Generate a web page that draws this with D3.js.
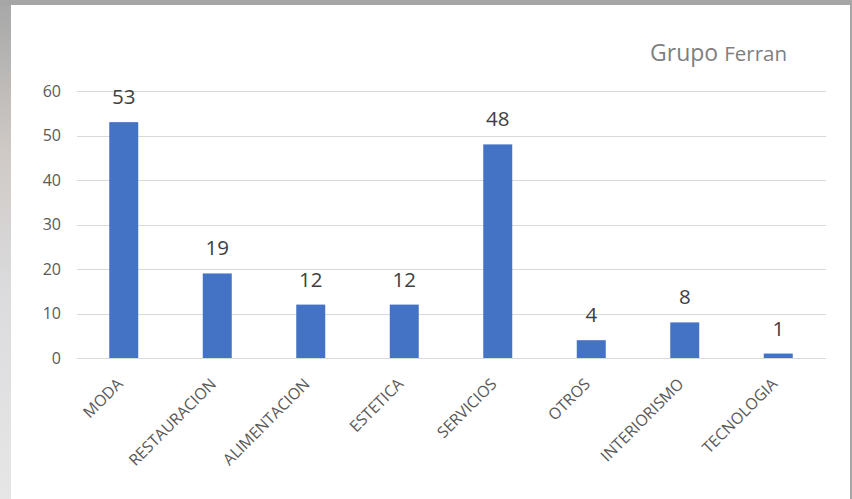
<!DOCTYPE html>
<html><head><meta charset="utf-8">
<script src="https://cdn.jsdelivr.net/npm/d3@7"></script>
<style>body{margin:0;padding:0;overflow:hidden;background:#a6a6a6}</style>
</head><body>
<script>
const categories = ["MODA","RESTAURACION","ALIMENTACION","ESTETICA","SERVICIOS","OTROS","INTERIORISMO","TECNOLOGIA"];
const values = [53,19,12,12,48,4,8,1];
const yTicks = [0,10,20,30,40,50,60];

const W = 852, H = 499;
const svg = d3.select("body").append("svg").attr("width",W).attr("height",H);
const font = "'Open Sans', sans-serif";

// background
const defs = svg.append("defs");
const lg = defs.append("linearGradient").attr("id","lb").attr("x1",0).attr("y1",0).attr("x2",0).attr("y2",1);
lg.append("stop").attr("offset","0").attr("stop-color","#a8a8a8");
lg.append("stop").attr("offset","0.3").attr("stop-color","#cfcac6");
lg.append("stop").attr("offset","0.6").attr("stop-color","#dcdcdf");
lg.append("stop").attr("offset","1").attr("stop-color","#e6e6e6");
svg.append("rect").attr("x",0).attr("y",0).attr("width",W).attr("height",H).attr("fill","#a6a6a6");
svg.append("rect").attr("x",0).attr("y",5).attr("width",11).attr("height",H-5).attr("fill","url(#lb)");
svg.append("rect").attr("x",11).attr("y",5).attr("width",839).attr("height",H-5).attr("fill","#ffffff");

const x = d3.scaleBand().domain(categories).range([77,825]).paddingInner(0.69).paddingOuter(0.345);
const y = d3.scaleLinear().domain([0,60]).range([358,91]);

// grid
svg.append("g").selectAll("line").data(yTicks).join("line")
  .attr("x1",77).attr("x2",826).attr("y1",d=>Math.round(y(d))+0.5).attr("y2",d=>Math.round(y(d))+0.5)
  .attr("stroke","#d9d9d9").attr("stroke-width",1);

// y axis labels
const yAxis = d3.axisLeft(y).tickValues(yTicks).tickSize(0).tickPadding(0);
const ga = svg.append("g").attr("transform","translate(61,0)").call(yAxis);
ga.select(".domain").remove();
ga.selectAll("text").attr("font-family",font).attr("font-size",16).attr("fill","#595959");

// bars
svg.append("g").selectAll("rect").data(values).join("rect")
  .attr("x",(d,i)=>x(categories[i])).attr("width",x.bandwidth())
  .attr("y",d=>y(d)).attr("height",d=>y(0)-y(d)).attr("fill","#4472c4");

// value labels
svg.append("g").selectAll("text").data(values).join("text")
  .attr("x",(d,i)=>x(categories[i])+x.bandwidth()/2).attr("y",d=>y(d)-18)
  .attr("text-anchor","middle").attr("font-family",font).attr("font-size",20.5).attr("fill","#404040")
  .text(d=>d);

// category labels
const xAxis = d3.axisBottom(x).tickSize(0).tickPadding(0);
const gx = svg.append("g").attr("transform","translate(0,358)").call(xAxis);
gx.select(".domain").remove();
gx.selectAll("text").attr("font-family",font).attr("font-size",15.8).attr("fill","#595959")
  .attr("text-anchor","end").attr("dy",0).attr("y",0)
  .attr("transform","translate(0,27) rotate(-45)");

// title
const t = svg.append("text").attr("x",787).attr("y",61).attr("text-anchor","end")
  .attr("font-family",font).attr("fill","#7f7f7f");
t.append("tspan").attr("font-size",23).text("Grupo ");
t.append("tspan").attr("font-size",20.5).text("Ferran");
</script>
</body></html>
